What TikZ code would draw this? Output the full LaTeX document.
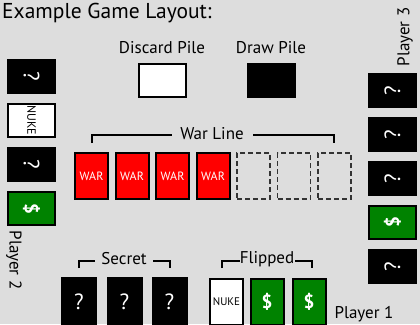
\documentclass[tikz,border=0pt]{standalone}
\usepackage{fontspec}
\setmainfont{PT Sans}
\definecolor{bg}{RGB}{221,221,221}
\definecolor{cardred}{RGB}{255,0,0}
\definecolor{cardgreen}{RGB}{0,130,0}
\begin{document}
\begin{tikzpicture}[x=1pt,y=-1pt,
  hcard/.style={draw=black,line width=2pt,minimum width=47pt,minimum height=33pt,inner sep=0pt},
  vcard/.style={draw=black,line width=2pt,minimum width=33pt,minimum height=46pt,inner sep=0pt},
  blackc/.style={fill=black,text=white,font=\fontsize{22}{22}\selectfont},
  whitec/.style={fill=white,text=black,font=\fontsize{12}{12}\selectfont},
  greenc/.style={fill=cardgreen,text=white,font=\fontsize{19}{19}\selectfont\bfseries},
  redc/.style={fill=cardred,text=white,font=\fontsize{12}{12}\selectfont},
  emptyc/.style={draw=black!80,dashed,dash pattern=on 5pt off 3pt,line width=1.5pt,minimum width=33pt,minimum height=46pt},
  lbl/.style={font=\fontsize{17}{17}\selectfont,inner sep=0pt},
  brk/.style={line width=2pt,black}]
\useasboundingbox (0,0) rectangle (420,324);
\fill[bg] (0,0) rectangle (420,324);
% title
\node[anchor=base west,font=\fontsize{21.5}{21.5}\selectfont,inner sep=0pt] (title) at (2,18) {Example Game Layout:};
% piles
\node[lbl] (discl) at (162,48) {Discard Pile};
\node[hcard,whitec] (disc) at (162.5,80) {};
\node[lbl] (drawl) at (271,48) {Draw Pile};
\node[hcard,blackc] (drawp) at (271.5,80) {};
% player 2
\node[hcard,blackc] (p2a) at (31.5,76.5) {\rotatebox{-90}{?}};
\node[hcard,whitec] (p2b) at (31.5,120.5) {\rotatebox{-90}{NUKE}};
\node[hcard,blackc] (p2c) at (31.5,164.5) {\rotatebox{-90}{?}};
\node[hcard,greenc] (p2d) at (31.5,208.5) {\rotatebox{-90}{\$}};
\node[lbl,rotate=-90] (p2l) at (14,260) {Player 2};
% player 3
\node[lbl,rotate=90] (p3l) at (405,37) {Player 3};
\node[hcard,blackc] (p3a) at (392.5,90.5) {\rotatebox{90}{?}};
\node[hcard,blackc] (p3b) at (392.5,134.5) {\rotatebox{90}{?}};
\node[hcard,blackc] (p3c) at (392.5,178.5) {\rotatebox{90}{?}};
\node[hcard,greenc] (p3d) at (392.5,222.5) {\rotatebox{90}{\$}};
\node[hcard,blackc] (p3e) at (392.5,266.5) {\rotatebox{90}{?}};
% war line
\node[lbl] (warl) at (212,134) {War Line};
\coordinate (wl1) at (92,143);
\coordinate (wl2) at (92,135);
\coordinate (wl3) at (172,135);
\coordinate (wr1) at (253,135);
\coordinate (wr2) at (334,135);
\coordinate (wr3) at (334,143);
\draw[brk] (wl1) -- (wl2) -- (wl3);
\draw[brk] (wr1) -- (wr2) -- (wr3);
\node[vcard,redc] (w1) at (91.5,176) {WAR};
\node[vcard,redc] (w2) at (132,176) {WAR};
\node[vcard,redc] (w3) at (172.5,176) {WAR};
\node[vcard,redc] (w4) at (213,176) {WAR};
\node[emptyc] (e1) at (253.5,176) {};
\node[emptyc] (e2) at (294,176) {};
\node[emptyc] (e3) at (334.5,176) {};
% secret
\node[lbl] (secl) at (124,259) {Secret};
\coordinate (sl1) at (79,268);
\coordinate (sl2) at (79,261);
\coordinate (sl3) at (95,261);
\coordinate (sr1) at (153,261);
\coordinate (sr2) at (170,261);
\coordinate (sr3) at (170,268);
\draw[brk] (sl1) -- (sl2) -- (sl3);
\draw[brk] (sr1) -- (sr2) -- (sr3);
\node[vcard,blackc,draw=none,minimum width=36pt,minimum height=49pt] (s1) at (79,301.5) {?};
\node[vcard,blackc,draw=none,minimum width=36pt,minimum height=49pt] (s2) at (124.5,301.5) {?};
\node[vcard,blackc,draw=none,minimum width=36pt,minimum height=49pt] (s3) at (169.5,301.5) {?};
% flipped
\node[lbl] (flpl) at (267,259) {Flipped};
\coordinate (fl1) at (222,268);
\coordinate (fl2) at (222,261);
\coordinate (fl3) at (240,261);
\coordinate (fr1) at (295,261);
\coordinate (fr2) at (312,261);
\coordinate (fr3) at (312,268);
\draw[brk] (fl1) -- (fl2) -- (fl3);
\draw[brk] (fr1) -- (fr2) -- (fr3);
\node[vcard,whitec,font=\fontsize{11}{11}\selectfont] (f1) at (226.5,301.5) {NUKE};
\node[vcard,greenc] (f2) at (267,301.5) {\$};
\node[vcard,greenc] (f3) at (309,301.5) {\$};
\node[lbl,anchor=base] (p1l) at (364,318) {Player 1};
\end{tikzpicture}
\end{document}
